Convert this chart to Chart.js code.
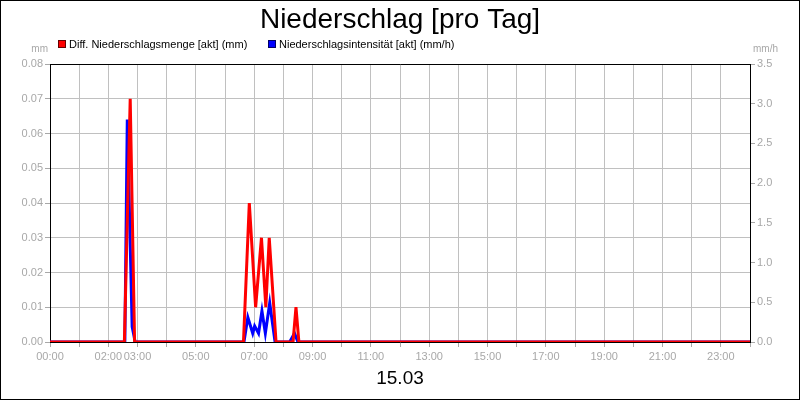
<!DOCTYPE html>
<html>
<head>
<meta charset="utf-8">
<script src="https://cdn.jsdelivr.net/npm/chart.js@4.4.1/dist/chart.umd.min.js"></script>
<style>
html,body{margin:0;padding:0;background:#fff;}
#wrap{width:800px;height:400px;position:relative;}
</style>
</head>
<body>
<div id="wrap"><canvas id="chartNS"></canvas></div>
<script>
const titleText = "Niederschlag [pro Tag]";
const dateText = "15.03";
const mengeLabel = "Diff. Niederschlagsmenge [akt] (mm)";
const intensLabel = "Niederschlagsintensität [akt] (mm/h)";

// Zeit in Minuten seit 00:00
const mengeTimes  = [0, 153, 165, 174, 398, 410, 423, 435, 444, 451, 465, 500, 506, 512, 1440];
const mengeValues = [0, 0, 0.07, 0, 0, 0.04, 0.01, 0.03, 0.01, 0.03, 0, 0, 0.01, 0, 0];

const intensTimes  = [0, 154, 159, 169, 173, 175, 399, 407, 417, 421, 429, 436, 443, 452, 463, 493, 503, 510, 1440];
const intensValues = [0, 0, 2.8, 0.19, 0.07, 0, 0, 0.31, 0.11, 0.2, 0.11, 0.39, 0.11, 0.49, 0, 0, 0.11, 0, 0];

const xTickLabels = ["00:00","02:00","03:00","05:00","07:00","09:00","11:00","13:00","15:00","17:00","19:00","21:00","23:00"];

const FONT = "'Liberation Sans', Arial, sans-serif";
const GREY = "#a8a8a8";
const GRID = "#c0c0c0";

function toPoints(times, values){
  return times.map((t,i)=>({x:t, y:values[i]}));
}

function hhmm(min){
  const h = Math.floor(min/60), m = Math.round(min%60);
  return String(h).padStart(2,"0") + ":" + String(m).padStart(2,"0");
}

/* ================= Deko ================= */

const decor = {
  id:"decor",
  beforeDatasetsDraw(chart){
    const {ctx, chartArea:a} = chart;
    ctx.save();
    ctx.strokeStyle = "#000";
    ctx.lineWidth = 1;
    ctx.beginPath();
    ctx.moveTo(a.left, a.top+0.5);
    ctx.lineTo(a.right+1, a.top+0.5);
    ctx.stroke();
    ctx.restore();
  },
  afterDraw(chart){
    const {ctx, width, height} = chart;
    ctx.save();

    // Titel
    ctx.fillStyle = "#000";
    ctx.font = "28px " + FONT;
    ctx.textAlign = "center";
    ctx.textBaseline = "alphabetic";
    ctx.fillText(titleText, 400, 28);

    // Legende
    const items = [
      {x:58, label:mengeLabel, color:"#ff0000"},
      {x:268, label:intensLabel, color:"#0000ff"}
    ];
    ctx.font = "11px " + FONT;
    ctx.textAlign = "left";
    items.forEach(it=>{
      ctx.fillStyle = it.color;
      ctx.fillRect(it.x, 40, 8, 8);
      ctx.strokeStyle = "rgba(0,0,0,0.6)";
      ctx.strokeRect(it.x+0.5, 40.5, 7, 7);
      ctx.fillStyle = "#000";
      ctx.fillText(it.label, it.x+11, 48);
    });

    // Einheiten
    ctx.fillStyle = GREY;
    ctx.font = "10px " + FONT;
    ctx.textAlign = "right";
    ctx.fillText("mm", 48, 52);
    ctx.textAlign = "left";
    ctx.fillText("mm/h", 753, 52);

    // Datum
    ctx.fillStyle = "#000";
    ctx.font = "19px " + FONT;
    ctx.textAlign = "center";
    ctx.fillText(dateText, 400, 384);

    // Rahmen
    ctx.strokeStyle = "#000";
    ctx.lineWidth = 1;
    ctx.strokeRect(0.5, 0.5, width-1, height-1);
    ctx.restore();
  }
};

/* ================= Chart ================= */

new Chart(document.getElementById("chartNS"),{
  type:"line",
  data:{
    datasets:[
      {
        label:mengeLabel,
        data:toPoints(mengeTimes, mengeValues),
        borderColor:"#ff0000",
        borderWidth:3,
        pointRadius:0,
        tension:0,
        yAxisID:"y"
      },
      {
        label:intensLabel,
        data:toPoints(intensTimes, intensValues),
        borderColor:"#0000ff",
        borderWidth:3,
        pointRadius:0,
        tension:0,
        yAxisID:"y1"
      }
    ]
  },
  options:{
    responsive:true,
    maintainAspectRatio:false,
    animation:false,
    layout:{padding:{top:64,left:0,right:0,bottom:0}},
    plugins:{legend:{display:false}, title:{display:false}, tooltip:{enabled:false}},
    scales:{
      x:{
        type:"linear",
        min:0, max:1440,
        afterFit:s=>{ s.height = 58; },
        afterBuildTicks:s=>{
          s.ticks = [];
          for(let m=0;m<=1440;m+=60) s.ticks.push({value:m});
        },
        ticks:{
          autoSkip:false, maxRotation:0, padding:3,
          color:GREY, font:{family:FONT, size:11},
          callback:v=>{ const l = hhmm(v); return xTickLabels.includes(l) ? l : ""; }
        },
        grid:{color:GRID, tickColor:GREY, tickLength:5},
        border:{color:"#000", width:1}
      },
      y:{
        position:"left",
        min:0, max:0.08,
        afterFit:s=>{ s.width = 50; },
        ticks:{
          stepSize:0.01, padding:2,
          color:GREY, font:{family:FONT, size:11},
          callback:v=>Number(v).toFixed(2)
        },
        grid:{color:GRID, tickColor:GREY, tickLength:5},
        border:{color:"#000", width:1}
      },
      y1:{
        position:"right",
        min:0, max:3.5,
        afterFit:s=>{ s.width = 50; },
        ticks:{
          stepSize:0.5, padding:2,
          color:GREY, font:{family:FONT, size:11},
          callback:v=>Number(v).toFixed(1)
        },
        grid:{drawOnChartArea:false, tickColor:GREY, tickLength:5},
        border:{color:"#000", width:1}
      }
    }
  },
  plugins:[decor]
});
</script>
</body>
</html>
